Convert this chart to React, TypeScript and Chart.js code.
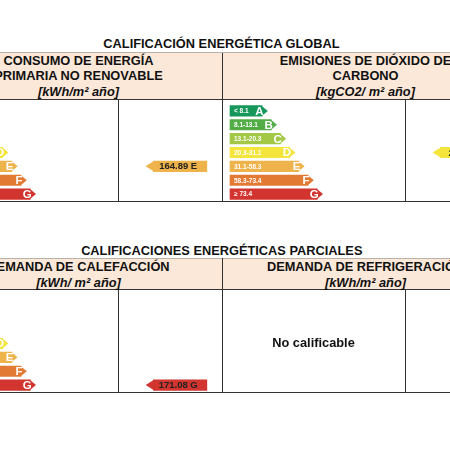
import React, { useEffect, useRef } from 'react';
import { Chart, registerables } from 'chart.js';

Chart.register(...registerables);

// ---------- data ----------
const GRADES = ['A', 'B', 'C', 'D', 'E', 'F', 'G'];
const GRADE_STEPS = [1, 2, 3, 4, 5, 6, 7];
const GRADE_COLORS = ['#17975a', '#52ad47', '#a3c845', '#f3e53c', '#eeb34a', '#e27a34', '#d2352f'];

const ENERGY_RANGES = ['< 34.1', '34.1-55.3', '55.3-85.7', '85.7-131.7', '131.7-270.8', '270.8-331.1', '≥ 331.1'];
const ENERGY_VALUE = 164.89;
const ENERGY_GRADE = 'E';

const CO2_RANGES = ['< 8.1', '8.1-13.1', '13.1-20.3', '20.3-31.1', '31.1-58.3', '58.3-73.4', '≥ 73.4'];
const CO2_VALUE = 28.06;
const CO2_GRADE = 'D';

const HEAT_RANGES = ['< 26.3', '26.3-42.6', '42.6-66.0', '66.0-101.5', '101.5-136.5', '136.5-168.0', '≥ 168.0'];
const HEAT_VALUE = 171.08;
const HEAT_GRADE = 'G';

// ---------- layout / style ----------
const FONT = '"Liberation Sans", Arial, Helvetica, sans-serif';
const PANEL_W = 287;
const BODY_H = 102;
const PX_PER_UNIT = 9.2;
const X_MIN = -3.35;
const X_MAX = X_MIN + PANEL_W / PX_PER_UNIT;
const BAR_BASE = -2.48;
const MARKER_SPAN: [number, number] = [20.4, 26.2];
const HEADER_BG = '#fce8d8';
const LINE = '#333';

const arrowPlugin = {
  id: 'ratingArrows',
  afterDatasetsDraw(chart: any) {
    const ctx = chart.ctx as CanvasRenderingContext2D;
    const popts = chart.options.plugins.ratingArrows || {};
    chart.data.datasets.forEach((ds: any, di: number) => {
      const meta = chart.getDatasetMeta(di);
      meta.data.forEach((el: any, i: number) => {
        const raw = ds.data[i];
        if (raw == null) return;
        const { x, y, base, height } = el.getProps(['x', 'y', 'base', 'height'], true);
        const h = height;
        const color = Array.isArray(ds.backgroundColor) ? ds.backgroundColor[i] : ds.backgroundColor;
        ctx.save();
        ctx.fillStyle = color;
        ctx.beginPath();
        if (ds.kind === 'scale') {
          const tip = h * 0.55;
          ctx.moveTo(x - 0.5, y - h / 2);
          ctx.lineTo(x + tip, y);
          ctx.lineTo(x - 0.5, y + h / 2);
        } else {
          const tip = h * 0.75;
          ctx.moveTo(base + 0.5, y - h / 2);
          ctx.lineTo(base - tip, y);
          ctx.lineTo(base + 0.5, y + h / 2);
        }
        ctx.closePath();
        ctx.fill();

        ctx.textBaseline = 'middle';
        if (ds.kind === 'scale') {
          ctx.fillStyle = '#ffffff';
          ctx.font = `bold 6.5px ${FONT}`;
          ctx.textAlign = 'left';
          ctx.fillText(popts.ranges[i], base + 4, y + 0.5);
          ctx.font = `bold 11.5px ${FONT}`;
          ctx.textAlign = 'right';
          ctx.fillText(GRADES[i], x + 1.5, y + 0.8);
        } else {
          ctx.fillStyle = '#222';
          ctx.font = `bold 9.5px ${FONT}`;
          ctx.textAlign = 'center';
          ctx.fillText(popts.markerText, (base + x) / 2 - 2, y + 0.5);
        }
        ctx.restore();
      });
    });
  },
};

function RatingPanel({ left, top, ranges, value, grade }: { left: number; top: number; ranges: string[]; value: number; grade: string }) {
  const ref = useRef<HTMLCanvasElement>(null);
  useEffect(() => {
    if (!ref.current) return;
    const gi = GRADES.indexOf(grade);
    const chart = new Chart(ref.current, {
      type: 'bar',
      data: {
        labels: GRADES,
        datasets: [
          {
            kind: 'scale',
            data: GRADE_STEPS,
            backgroundColor: GRADE_COLORS,
            base: BAR_BASE,
            barThickness: 10.5,
            grouped: false,
            borderWidth: 0,
          } as any,
          {
            kind: 'marker',
            data: GRADES.map((g) => (g === grade ? MARKER_SPAN : null)),
            backgroundColor: GRADE_COLORS[gi],
            barThickness: 10.5,
            grouped: false,
            borderWidth: 0,
          } as any,
        ],
      },
      options: {
        indexAxis: 'y',
        responsive: false,
        animation: false,
        events: [],
        layout: { padding: { top: 5, bottom: 0, left: 0, right: 0 } },
        scales: {
          x: { type: 'linear', min: X_MIN, max: X_MAX, display: false },
          y: { display: false },
        },
        plugins: {
          legend: { display: false },
          tooltip: { enabled: false },
          ratingArrows: { ranges, markerText: `${value.toFixed(2)} ${grade}` },
        } as any,
      },
      plugins: [arrowPlugin],
    });
    return () => chart.destroy();
  }, [ranges, value, grade]);
  return (
    <canvas
      ref={ref}
      width={PANEL_W}
      height={BODY_H}
      style={{ position: 'absolute', left, top, width: PANEL_W, height: BODY_H }}
    />
  );
}

function HLine({ y, color = LINE }: { y: number; color?: string }) {
  return <div style={{ position: 'absolute', left: 0, width: 450, top: y - 0.5, height: 1, background: color }} />;
}
function VLine({ x, y1, y2 }: { x: number; y1: number; y2: number }) {
  return <div style={{ position: 'absolute', left: x - 0.5, width: 1, top: y1, height: y2 - y1, background: LINE }} />;
}
function Txt({ cx, cy, text, italic = false }: { cx: number; cy: number; text: string; italic?: boolean }) {
  return (
    <div
      style={{
        position: 'absolute',
        left: cx - 200,
        width: 400,
        top: cy - 8,
        height: 16,
        lineHeight: '16px',
        textAlign: 'center',
        fontSize: 12.8,
        fontWeight: 'bold',
        fontStyle: italic ? 'italic' : 'normal',
        whiteSpace: 'nowrap',
      }}
    >
      {text}
    </div>
  );
}

export default function App() {
  return (
    <div
      style={{
        position: 'fixed',
        left: 0,
        top: 0,
        width: 450,
        height: 450,
        overflow: 'hidden',
        background: '#fff',
        fontFamily: FONT,
        color: '#111',
      }}
    >
      {/* global section */}
      <Txt cx={221.5} cy={43.7} text="CALIFICACIÓN ENERGÉTICA GLOBAL" />
      <div style={{ position: 'absolute', left: 0, width: 450, top: 52.5, height: 46.5, background: HEADER_BG }} />
      <HLine y={52.5} color="#b9b2ab" />
      <HLine y={99} />
      <HLine y={201.5} />
      <VLine x={222} y1={52.5} y2={201.5} />
      <VLine x={118} y1={99} y2={201.5} />
      <VLine x={405} y1={99} y2={201.5} />
      <Txt cx={78.5} cy={60.8} text="CONSUMO DE ENERGÍA" />
      <Txt cx={78.5} cy={76.3} text="PRIMARIA NO RENOVABLE" />
      <Txt cx={78.5} cy={92} text="[kWh/m² año]" italic />
      <Txt cx={365.5} cy={60.8} text="EMISIONES DE DIÓXIDO DE" />
      <Txt cx={365.5} cy={76.3} text="CARBONO" />
      <Txt cx={365.5} cy={92} text="[kgCO2/ m² año]" italic />
      <RatingPanel left={-65} top={99} ranges={ENERGY_RANGES} value={ENERGY_VALUE} grade={ENERGY_GRADE} />
      <RatingPanel left={222} top={99} ranges={CO2_RANGES} value={CO2_VALUE} grade={CO2_GRADE} />

      {/* partial section */}
      <Txt cx={221.8} cy={250.7} text="CALIFICACIONES ENERGÉTICAS PARCIALES" />
      <div style={{ position: 'absolute', left: 0, width: 450, top: 258.3, height: 31.2, background: HEADER_BG }} />
      <HLine y={258.3} color="#b9b2ab" />
      <HLine y={289.5} />
      <HLine y={392} />
      <VLine x={222} y1={258.3} y2={392} />
      <VLine x={118} y1={289.5} y2={392} />
      <VLine x={405} y1={289.5} y2={392} />
      <Txt cx={78.5} cy={267.2} text="DEMANDA DE CALEFACCIÓN" />
      <Txt cx={78.5} cy={282.8} text="[kWh/ m² año]" italic />
      <Txt cx={365.5} cy={267.2} text="DEMANDA DE REFRIGERACIÓN" />
      <Txt cx={365.5} cy={282.8} text="[kWh/m² año]" italic />
      <RatingPanel left={-65} top={290} ranges={HEAT_RANGES} value={HEAT_VALUE} grade={HEAT_GRADE} />
      <Txt cx={313.5} cy={342.5} text="No calificable" />
    </div>
  );
}
